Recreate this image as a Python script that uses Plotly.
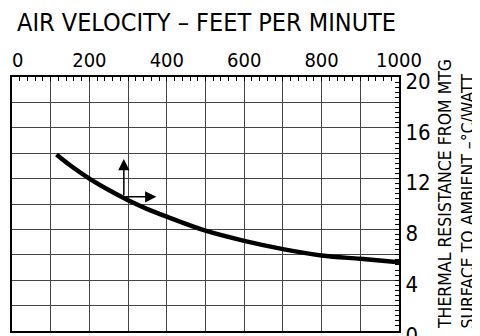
import plotly.graph_objects as go

# Data
velocity = [115, 150, 200, 250, 300, 350, 400, 500, 600, 700, 800, 900, 1000]
resistance = [13.9, 13.05, 12.0, 11.1, 10.3, 9.6, 9.0, 7.9, 7.1, 6.45, 5.95, 5.68, 5.42]

x_label_vals = [0, 200, 400, 600, 800, 1000]
y_label_vals = [0, 4, 8, 12, 16, 20]

title_text = "AIR VELOCITY – FEET PER MINUTE"
ytitle_lines = ["THERMAL RESISTANCE FROM MTG", "SURFACE TO AMBIENT –°C/WATT"]

# arrow annotation (base and tips)
arrow_base = (289, 10.57)
arrow_up_tip = (289, 13.55)
arrow_right_tip = (373, 10.57)

FONT = "DejaVu Sans Condensed, Liberation Sans Narrow, Arial Narrow, sans-serif"
NBSP = "\u00a0"

# tick marks every 20 on x, every 0.4 on y; labels only at label values
x_ticks = list(range(0, 1001, 20))
x_text = []
for v in x_ticks:
    if v in x_label_vals:
        # the first label sits just inside the frame in the reference
        x_text.append(NBSP * 2 + str(v) if v == 0 else str(v))
    else:
        x_text.append("")
y_ticks = [round(i * 0.4, 1) for i in range(0, 51)]
y_text = [str(int(v)) if (abs(v - round(v)) < 1e-9 and int(round(v)) in y_label_vals) else "" for v in y_ticks]

fig = go.Figure()
fig.add_trace(go.Scatter(x=velocity, y=resistance, mode="lines",
                         line=dict(color="black", width=4.5, shape="spline"),
                         showlegend=False, hoverinfo="skip"))

grid_color = "#444444"
fig.update_xaxes(range=[0, 1000], side="top", tickmode="array",
                 tickvals=x_ticks, ticktext=x_text, automargin=False,
                 ticklabeloverflow="allow",
                 ticks="inside", ticklen=4, tickwidth=1, tickcolor="black",
                 showgrid=False, zeroline=False,
                 minor=dict(dtick=100, tick0=0, showgrid=True, gridcolor=grid_color, gridwidth=1.2, ticks=""),
                 showline=True, linecolor="black", linewidth=2, mirror=True,
                 tickfont=dict(family=FONT, size=20, color="black"))
fig.update_yaxes(range=[0, 20], side="right", tickmode="array",
                 tickvals=y_ticks, ticktext=y_text, automargin=False,
                 ticklabeloverflow="allow",
                 ticks="inside", ticklen=4, tickwidth=1, tickcolor="black",
                 showgrid=False, zeroline=False, ticklabelshift=4,
                 minor=dict(dtick=2, tick0=0, showgrid=True, gridcolor=grid_color, gridwidth=1.2, ticks=""),
                 showline=True, linecolor="black", linewidth=2, mirror=True,
                 tickfont=dict(family=FONT, size=22, color="black"))

fig.add_annotation(x=arrow_up_tip[0], y=arrow_up_tip[1], ax=arrow_base[0], ay=arrow_base[1],
                   xref="x", yref="y", axref="x", ayref="y", text="", showarrow=True,
                   arrowhead=2, arrowsize=1.5, arrowwidth=1.5, arrowcolor="black")
fig.add_annotation(x=arrow_right_tip[0], y=arrow_right_tip[1], ax=arrow_base[0], ay=arrow_base[1],
                   xref="x", yref="y", axref="x", ayref="y", text="", showarrow=True,
                   arrowhead=2, arrowsize=1.5, arrowwidth=1.5, arrowcolor="black")

fig.add_annotation(text=title_text, xref="paper", yref="paper", x=0.008, y=1.2126,
                   xanchor="left", yanchor="middle", showarrow=False,
                   font=dict(family=FONT, size=25, color="black"))
for line_text, xpos in zip(ytitle_lines, [1.119, 1.176]):
    fig.add_annotation(text=line_text, xref="paper", yref="paper", x=xpos, y=0.0,
                       xanchor="center", yanchor="bottom", showarrow=False, textangle=-90,
                       font=dict(family=FONT, size=17.5, color="black"))

# page body has an 8px default margin, so the figure is 8px smaller and shifted
fig.update_layout(width=472, height=328, margin=dict(l=4, r=81, t=69, b=5),
                  paper_bgcolor="white", plot_bgcolor="white")

fig.write_html("out.html")
